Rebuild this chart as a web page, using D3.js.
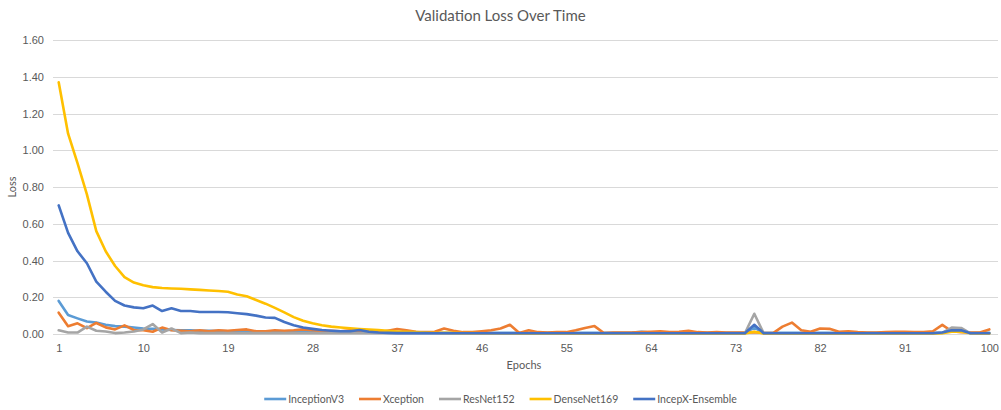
<!DOCTYPE html>
<html>
<head>
<meta charset="utf-8">
<script src="https://cdn.jsdelivr.net/npm/d3@7"></script>
<style>
  body { margin: 0; background: #fff; }
  svg { font-family: Lato, "Open Sans", sans-serif; }
</style>
</head>
<body>
<div id="chart"></div>
<script>
// epochs 1..100
const epochs = d3.range(1, 101);
const yTicks = [0, 0.2, 0.4, 0.6, 0.8, 1.0, 1.2, 1.4, 1.6];

const inceptionV3 = [
  0.18, 0.103, 0.085, 0.068, 0.062, 0.05, 0.043, 0.04, 0.035, 0.03,
  0.028, 0.025, 0.022, 0.02, 0.02, 0.018, 0.017, 0.016, 0.015, 0.014,
  0.013, 0.012, 0.012, 0.011, 0.01, 0.01, 0.01, 0.009, 0.009, 0.008,
  0.008, 0.008, 0.007, 0.007, 0.007, 0.007, 0.006, 0.006, 0.006, 0.006,
  0.006, 0.006, 0.006, 0.006, 0.006, 0.006, 0.006, 0.006, 0.006, 0.006,
  0.006, 0.006, 0.006, 0.006, 0.006, 0.006, 0.006, 0.006, 0.006, 0.006,
  0.006, 0.008, 0.012, 0.008, 0.006, 0.006, 0.006, 0.006, 0.006, 0.006,
  0.006, 0.006, 0.006, 0.006, 0.035, 0.006, 0.006, 0.006, 0.006, 0.006,
  0.006, 0.006, 0.006, 0.006, 0.006, 0.006, 0.006, 0.006, 0.006, 0.006,
  0.006, 0.006, 0.006, 0.006, 0.008, 0.02, 0.02, 0.006, 0.006, 0.006
];
const xception = [
  0.116, 0.042, 0.058, 0.032, 0.06, 0.036, 0.025, 0.047, 0.022, 0.02,
  0.012, 0.035, 0.02, 0.018, 0.015, 0.02, 0.015, 0.02, 0.018, 0.022,
  0.025, 0.015, 0.015, 0.02, 0.018, 0.02, 0.025, 0.02, 0.015, 0.018,
  0.015, 0.02, 0.015, 0.012, 0.01, 0.018, 0.027, 0.02, 0.012, 0.01,
  0.012, 0.03, 0.018, 0.01, 0.01, 0.015, 0.02, 0.03, 0.05, 0.005,
  0.02, 0.01, 0.008, 0.01, 0.01, 0.02, 0.033, 0.043, 0.005, 0.008,
  0.008, 0.008, 0.01, 0.012, 0.015, 0.01, 0.012, 0.018, 0.01, 0.008,
  0.01, 0.008, 0.008, 0.008, 0.01, 0.005, 0.005, 0.04, 0.062, 0.02,
  0.012, 0.03, 0.028, 0.012, 0.015, 0.01, 0.008, 0.008, 0.01, 0.012,
  0.012, 0.01, 0.01, 0.015, 0.05, 0.015, 0.01, 0.008, 0.008, 0.025
];
const resNet152 = [
  0.02, 0.008, 0.008, 0.04, 0.018, 0.014, 0.005, 0.008, 0.014, 0.025,
  0.054, 0.008, 0.03, 0.005, 0.008, 0.005, 0.005, 0.005, 0.005, 0.005,
  0.005, 0.005, 0.005, 0.005, 0.005, 0.005, 0.005, 0.005, 0.005, 0.005,
  0.005, 0.005, 0.005, 0.005, 0.004, 0.004, 0.004, 0.004, 0.004, 0.004,
  0.004, 0.004, 0.004, 0.004, 0.004, 0.004, 0.004, 0.004, 0.004, 0.004,
  0.004, 0.004, 0.004, 0.004, 0.004, 0.004, 0.004, 0.004, 0.004, 0.004,
  0.004, 0.004, 0.004, 0.004, 0.004, 0.004, 0.004, 0.004, 0.004, 0.004,
  0.004, 0.004, 0.004, 0.004, 0.11, 0.004, 0.004, 0.004, 0.004, 0.004,
  0.004, 0.004, 0.004, 0.004, 0.004, 0.004, 0.004, 0.004, 0.004, 0.004,
  0.004, 0.004, 0.004, 0.004, 0.006, 0.035, 0.033, 0.004, 0.004, 0.004
];
const denseNet169 = [
  1.37, 1.09, 0.93, 0.76, 0.56, 0.45, 0.37, 0.31, 0.28, 0.265,
  0.255, 0.25, 0.248, 0.246, 0.243, 0.24, 0.237, 0.234, 0.23, 0.215,
  0.205, 0.185, 0.165, 0.142, 0.118, 0.092, 0.072, 0.058, 0.048, 0.04,
  0.035, 0.031, 0.027, 0.024, 0.021, 0.017, 0.014, 0.012, 0.01, 0.008,
  0.007, 0.006, 0.006, 0.005, 0.005, 0.004, 0.004, 0.004, 0.004, 0.003,
  0.003, 0.003, 0.003, 0.003, 0.003, 0.003, 0.003, 0.003, 0.003, 0.003,
  0.003, 0.003, 0.003, 0.003, 0.003, 0.003, 0.003, 0.003, 0.003, 0.003,
  0.003, 0.003, 0.003, 0.003, 0.012, 0.003, 0.003, 0.003, 0.003, 0.003,
  0.003, 0.003, 0.003, 0.003, 0.003, 0.003, 0.003, 0.003, 0.003, 0.003,
  0.003, 0.003, 0.003, 0.003, 0.004, 0.012, 0.012, 0.004, 0.003, 0.003
];
const incepXEnsemble = [
  0.70, 0.55, 0.45, 0.385, 0.285, 0.23, 0.18, 0.155, 0.145, 0.14,
  0.155, 0.125, 0.14, 0.125, 0.125, 0.12, 0.12, 0.12, 0.118, 0.113,
  0.108, 0.1, 0.09, 0.088, 0.065, 0.048, 0.035, 0.028, 0.022, 0.018,
  0.015, 0.015, 0.022, 0.012, 0.008, 0.006, 0.005, 0.005, 0.005, 0.005,
  0.004, 0.004, 0.004, 0.004, 0.004, 0.004, 0.004, 0.004, 0.004, 0.004,
  0.004, 0.004, 0.004, 0.004, 0.004, 0.004, 0.004, 0.004, 0.004, 0.004,
  0.004, 0.004, 0.004, 0.004, 0.004, 0.004, 0.004, 0.004, 0.004, 0.004,
  0.004, 0.004, 0.004, 0.004, 0.05, 0.004, 0.004, 0.004, 0.004, 0.004,
  0.004, 0.004, 0.004, 0.004, 0.004, 0.004, 0.004, 0.004, 0.004, 0.004,
  0.004, 0.004, 0.004, 0.004, 0.008, 0.02, 0.02, 0.004, 0.004, 0.004
];

const seriesNames = ["InceptionV3", "Xception", "ResNet152", "DenseNet169", "IncepX-Ensemble"];
const seriesValues = [inceptionV3, xception, resNet152, denseNet169, incepXEnsemble];
const seriesColors = ["#5B9BD5", "#ED7D31", "#A5A5A5", "#FFC000", "#4472C4"];

const W = 1001, H = 410;
const margin = { top: 40, right: 7, bottom: 76, left: 54 };

const svg = d3.select("#chart").append("svg")
    .attr("width", W)
    .attr("height", H);

const xScale = d3.scalePoint(epochs, [margin.left, W - margin.right]).padding(0.5);
const yScale = d3.scaleLinear([0, 1.6], [H - margin.bottom, margin.top]);

// gridlines
svg.append("g")
    .selectAll("line")
    .data(yTicks)
    .join("line")
    .attr("x1", margin.left - 1)
    .attr("x2", W - 3)
    .attr("y1", d => Math.round(yScale(d)) + 0.5)
    .attr("y2", d => Math.round(yScale(d)) + 0.5)
    .attr("stroke", "#D9D9D9")
    .attr("stroke-width", 1);

// y axis labels
const yAxis = svg.append("g")
    .attr("transform", `translate(${margin.left - 6},0)`)
    .call(d3.axisLeft(yScale).tickValues(yTicks).tickFormat(d3.format(".2f")).tickSize(0).tickPadding(4));
yAxis.select(".domain").remove();
yAxis.selectAll("text").attr("fill", "#595959").attr("font-size", 11);

// x axis labels
const xAxis = svg.append("g")
    .attr("transform", `translate(0,${H - margin.bottom})`)
    .call(d3.axisBottom(xScale).tickValues(epochs.filter(d => (d - 1) % 9 === 0)).tickSize(0).tickPadding(10));
xAxis.select(".domain").remove();
xAxis.selectAll("text").attr("fill", "#595959").attr("font-size", 11);

// lines
const line = d3.line()
    .x((_, i) => xScale(epochs[i]))
    .y(d => yScale(d));

seriesValues.forEach((vals, k) => {
    svg.append("path")
        .datum(vals)
        .attr("fill", "none")
        .attr("stroke", seriesColors[k])
        .attr("stroke-width", 2.6)
        .attr("stroke-linejoin", "round")
        .attr("stroke-linecap", "round")
        .attr("d", line);
});

// title
svg.append("text")
    .attr("x", W / 2)
    .attr("y", 21)
    .attr("text-anchor", "middle")
    .attr("fill", "#595959")
    .attr("font-size", 15)
    .text("Validation Loss Over Time");

// axis titles
svg.append("text")
    .attr("transform", `translate(16,${(margin.top + H - margin.bottom) / 2}) rotate(-90)`)
    .attr("text-anchor", "middle")
    .attr("fill", "#595959")
    .attr("font-size", 11)
    .text("Loss");

svg.append("text")
    .attr("x", (margin.left + W - margin.right) / 2)
    .attr("y", 369)
    .attr("text-anchor", "middle")
    .attr("fill", "#595959")
    .attr("font-size", 11)
    .text("Epochs");

// legend
const legend = svg.append("g");
const gap = 15;
let lx = 0;
seriesNames.forEach((name, k) => {
    const item = legend.append("g").attr("transform", `translate(${lx},0)`);
    item.append("line")
        .attr("x1", 0).attr("x2", 22)
        .attr("y1", 0).attr("y2", 0)
        .attr("stroke", seriesColors[k])
        .attr("stroke-width", 2.6);
    const t = item.append("text")
        .attr("x", 24)
        .attr("y", 4)
        .attr("fill", "#595959")
        .attr("font-size", 10.5)
        .text(name);
    lx += 24 + t.node().getComputedTextLength() + gap;
});
lx -= gap;
legend.attr("transform", `translate(${(W - lx) / 2},399)`);
</script>
</body>
</html>
